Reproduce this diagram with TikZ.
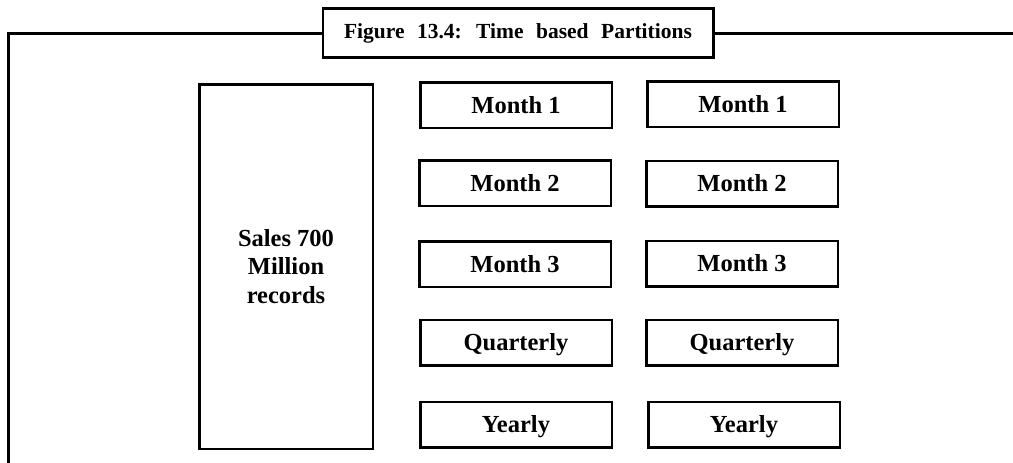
\documentclass[tikz,border=0pt]{standalone}
\usepackage{fontspec}
\setmainfont{Liberation Serif}
\usepackage{tikz}
\usetikzlibrary{positioning}
\begin{document}
\begin{tikzpicture}[x=1pt, y=-1pt,
    font=\fontsize{24.5}{29}\selectfont\bfseries,
    part/.style={draw, line width=2.5pt, minimum width=191.5pt, minimum height=45.5pt,
                 inner sep=0pt, text height=16pt, text depth=0pt},
    store/.style={draw, line width=2.5pt, minimum width=173.5pt, minimum height=364.5pt,
                  inner sep=0pt, align=center,
                  font=\fontsize{24.5}{28.5}\selectfont\bfseries},
    caption/.style={draw, line width=2.5pt, fill=white, minimum width=390.5pt,
                    minimum height=49pt, inner sep=0pt,
                    font={\fontsize{21.5}{26}\selectfont\bfseries\spaceskip=12.5pt\relax}},
    frame/.style={line width=3pt},
  ]
  \useasboundingbox (0,0) rectangle (1013,463);

  % outer frame, open at the right and at the bottom
  \coordinate (fr) at (1013,33);
  \coordinate (fl) at (8,33);
  \coordinate (fb) at (8,463);
  \draw[frame] (fr) -- (fl) -- (fb);
  \node[caption] (title) at (518,33) {Figure 13.4: Time based Partitions};

  % the unpartitioned fact table
  \node[store] (sales) at (286,266.5) {Sales 700\\Million\\records};

  % first column of partitions
  \node[part] (m1a) at (516,105)   {Month 1};
  \node[part] (m2a) at (515,183)   {Month 2};
  \node[part] (m3a) at (515,264)   {Month 3};
  \node[part] (qa)  at (516,342.5) {Quarterly};
  \node[part] (ya)  at (516,424.5) {Yearly};

  % second column of partitions
  \node[part] (m1b) at (743,104)   {Month 1};
  \node[part] (m2b) at (742,183.5) {Month 2};
  \node[part] (m3b) at (742,263.5) {Month 3};
  \node[part] (qb)  at (742,342.5) {Quarterly};
  \node[part] (yb)  at (744,424.5) {Yearly};
\end{tikzpicture}
\end{document}
